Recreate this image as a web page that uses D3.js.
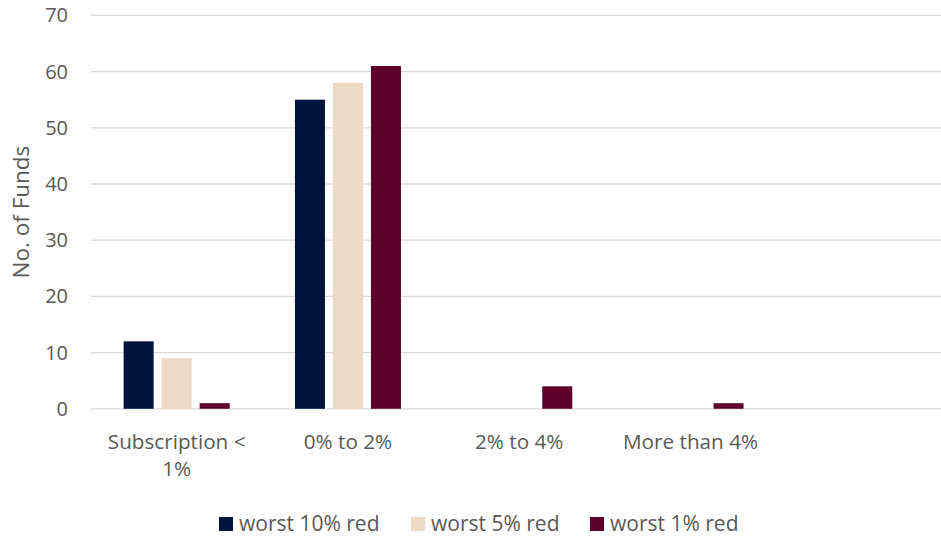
<!DOCTYPE html>
<html>
<head>
<meta charset="utf-8">
<script src="https://cdn.jsdelivr.net/npm/d3@7"></script>
<style>
  html, body { margin: 0; padding: 0; background: #fff; }
  svg { display: block; font-family: "Open Sans", "Noto Sans", sans-serif; }
</style>
</head>
<body>
<svg id="chart" width="941" height="539"></svg>
<script>
// Fee-level buckets (the last slot is an unlabeled empty category)
const categories = [["Subscription <", "1%"], ["0% to 2%"], ["2% to 4%"], ["More than 4%"], [""]];
const seriesNames = ["worst 10% red", "worst 5% red", "worst 1% red"];
const worst10 = [12, 55, 0, 0, null];
const worst5 = [9, 58, 0, 0, null];
const worst1 = [1, 61, 4, 1, null];
const yTicks = [0, 10, 20, 30, 40, 50, 60, 70];
const colors = ["#00133a", "#eed9c4", "#5e002a"];

const series = [worst10, worst5, worst1];
const svg = d3.select("#chart");
const textColor = "#595959";

const plotLeft = 91, step = 171.3, plotTop = 15.4, plotBottom = 408.8;
const x = d3.scaleBand()
  .domain(d3.range(categories.length))
  .range([plotLeft, plotLeft + step * categories.length])
  .paddingInner(0).paddingOuter(0);
const y = d3.scaleLinear().domain([0, 70]).range([plotBottom, plotTop]);

// group layout inside each band: 3 bars of 30px with 8px gaps
const barW = 30, gap = 8;
const groupW = barW * 3 + gap * 2;
const offset = (x.bandwidth() - groupW) / 2;

// gridlines
svg.append("g")
  .selectAll("line")
  .data(yTicks)
  .join("line")
  .attr("x1", plotLeft).attr("x2", 941)
  .attr("y1", d => y(d)).attr("y2", d => y(d))
  .attr("stroke", "#d9d9d9").attr("stroke-width", 1.3);

// y axis labels
const yAxis = d3.axisLeft(y).tickValues(yTicks).tickSize(0).tickPadding(0);
const gy = svg.append("g").attr("transform", `translate(${plotLeft - 23},0)`).call(yAxis);
gy.select(".domain").remove();
gy.selectAll("text")
  .attr("font-size", 20).attr("fill", textColor)
  .attr("font-family", "'Open Sans', sans-serif");

// bars
series.forEach((vals, si) => {
  svg.append("g").selectAll("rect")
    .data(vals.map((v, i) => ({ v, i })).filter(d => d.v !== null && d.v > 0))
    .join("rect")
    .attr("x", d => x(d.i) + offset + si * (barW + gap))
    .attr("width", barW)
    .attr("y", d => y(d.v))
    .attr("height", d => y(0) - y(d.v))
    .attr("fill", colors[si]);
});

// category labels
const gx = svg.append("g");
categories.forEach((lines, i) => {
  const t = gx.append("text")
    .attr("x", x(i) + x.bandwidth() / 2)
    .attr("y", 449)
    .attr("text-anchor", "middle")
    .attr("font-size", 20.7).attr("fill", textColor);
  lines.forEach((ln, k) => {
    t.append("tspan")
      .attr("x", x(i) + x.bandwidth() / 2)
      .attr("dy", k === 0 ? 0 : 27)
      .text(ln);
  });
});

// y axis title
svg.append("text")
  .attr("transform", `translate(29,${(plotTop + plotBottom) / 2}) rotate(-90)`)
  .attr("text-anchor", "middle")
  .attr("font-size", 22.5).attr("fill", textColor)
  .text("No. of Funds");

// legend
const legendX = [219, 411, 590];
const lg = svg.append("g");
seriesNames.forEach((name, i) => {
  lg.append("rect")
    .attr("x", legendX[i]).attr("y", 517)
    .attr("width", 14).attr("height", 14)
    .attr("fill", colors[i]);
  lg.append("text")
    .attr("x", legendX[i] + 20).attr("y", 530.5)
    .attr("font-size", 21).attr("fill", textColor)
    .text(name);
});
</script>
</body>
</html>
